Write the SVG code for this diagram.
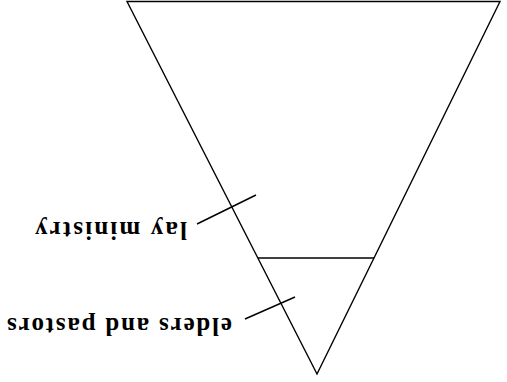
<svg xmlns="http://www.w3.org/2000/svg" width="507" height="382" viewBox="0 0 507 382">
<style>
.ln{stroke:#000;stroke-width:1.4;fill:none}
.lb{font-family:"Liberation Serif","DejaVu Serif",serif;font-weight:bold;font-size:25px;fill:#000}
</style>
<rect width="507" height="382" fill="#fff"/>
<g id="triangle">
<polygon class="ln" points="127,1.5 500,1.5 317,374"/>
</g>
<g id="divider">
<line class="ln" x1="258" y1="258" x2="374" y2="258"/>
</g>
<g id="connectors">
<line class="ln" x1="197" y1="224" x2="256" y2="195"/>
<line class="ln" x1="245" y1="319" x2="295" y2="297"/>
</g>
<g id="lay-ministry">
<text class="lb" transform="translate(187,222) rotate(180)" x="0" y="0" textLength="152" lengthAdjust="spacing">lay ministry</text>
</g>
<g id="elders-and-pastors">
<text class="lb" transform="translate(232,318) rotate(180)" x="0" y="0" textLength="225" lengthAdjust="spacing">elders and pastors</text>
</g>
</svg>
